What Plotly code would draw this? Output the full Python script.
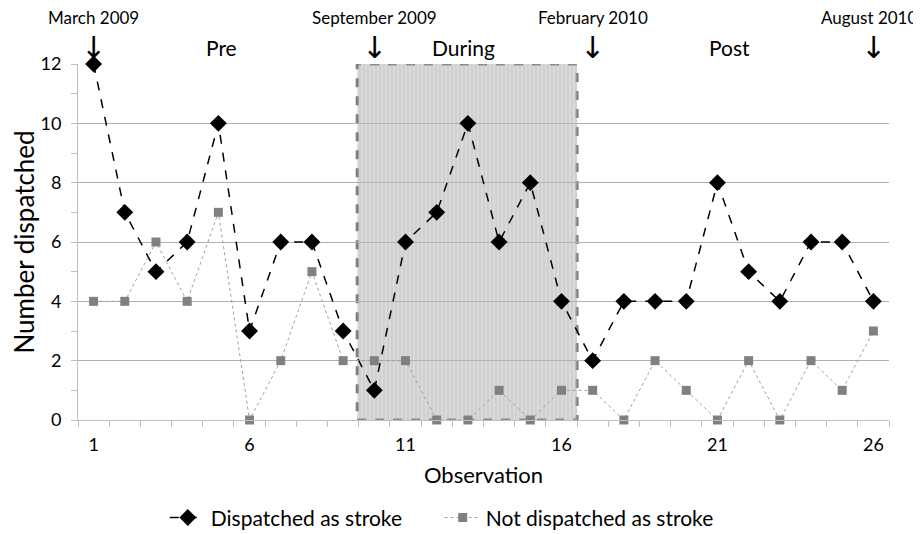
import plotly.graph_objects as go

observations = list(range(1, 27))
dispatched = [12, 7, 5, 6, 10, 3, 6, 6, 3, 1, 6, 7, 10, 6, 8, 4, 2, 4, 4, 4, 8, 5, 4, 6, 6, 4]
not_dispatched = [4, 4, 6, 4, 7, 0, 2, 5, 2, 2, 2, 0, 0, 1, 0, 1, 1, 0, 2, 1, 0, 2, 0, 2, 1, 3]
x_ticks = [1, 6, 11, 16, 21, 26]
phase_labels = ["Pre", "During", "Post"]
phase_pos = [5.1, 12.85, 21.4]
date_labels = ["March 2009", "September 2009", "February 2010", "August 2010"]
date_pos = [1, 10, 17, 26]
during_x0, during_x1 = 9.45, 16.5

FONT = "Lato"
fig = go.Figure()

# hatched fill of the intervention period
fig.add_trace(go.Scatter(
    x=[during_x0, during_x1, during_x1, during_x0, during_x0],
    y=[0, 0, 12, 12, 0], mode="lines", fill="toself",
    line=dict(width=0), fillcolor="rgba(0,0,0,0)",
    fillpattern=dict(shape="|", fgcolor="#bcbcbc", bgcolor="rgba(0,0,0,0)", size=4, solidity=0.35),
    showlegend=False, hoverinfo="skip"))

fig.add_trace(go.Scatter(
    x=observations, y=dispatched, mode="lines+markers", name="Dispatched as stroke",
    line=dict(color="black", dash="dash", width=1.5), legend="legend",
    marker=dict(symbol="diamond", size=13, color="black"), cliponaxis=False))
fig.add_trace(go.Scatter(
    x=observations, y=not_dispatched, mode="lines+markers", name="Not dispatched as stroke",
    line=dict(color="#a0a0a0", dash="dot", width=1), legend="legend2",
    marker=dict(symbol="square", size=9, color="#808080"), cliponaxis=False))

fig.add_shape(type="rect", x0=during_x0, x1=during_x1, y0=0, y1=12, layer="below",
              fillcolor="#dadada", line=dict(color="#808080", width=3, dash="dash"))

for lab, px in zip(phase_labels, phase_pos):
    fig.add_annotation(x=px, y=12, yref="y", text=lab, showarrow=False, yanchor="bottom",
                       yshift=2, font=dict(family=FONT, size=21, color="black"))
for lab, px in zip(date_labels, date_pos):
    fig.add_annotation(x=px, y=12, text="↓", showarrow=False, yanchor="bottom", yshift=-3,
                       font=dict(family="DejaVu Sans", size=30, color="black"))
    fig.add_annotation(x=px, y=12, text=lab, showarrow=False, yanchor="bottom", yshift=34,
                       xshift=-4 if px == 26 else 0,
                       font=dict(family=FONT, size=17, color="black"))

leg_common = dict(orientation="h", xanchor="left", y=-0.275, yanchor="middle",
                  font=dict(family=FONT, size=21, color="black"), itemwidth=36)

# page body adds an 8px offset, so the figure is drawn 8px smaller with shifted margins
fig.update_layout(
    width=913, height=526, plot_bgcolor="white", paper_bgcolor="white",
    margin=dict(l=70, r=32, t=56, b=114, autoexpand=False),
    font=dict(family=FONT, size=17, color="#222"),
    legend=dict(x=0.107, **leg_common),
    legend2=dict(x=0.446, **leg_common),
    xaxis=dict(range=[0.5, 26.5], tickvals=x_ticks, ticks="", showgrid=False, automargin=False,
               showline=True, linecolor="#bfbfbf", zeroline=False, ticklabelstandoff=8,
               minor=dict(tick0=0.5, dtick=1, ticks="outside", ticklen=6, tickcolor="#bfbfbf", showgrid=False),
               title=dict(text="Observation", font=dict(family=FONT, size=22, color="black"), standoff=14),
               tickfont=dict(family=FONT, size=18, color="black")),
    yaxis=dict(range=[0, 12], dtick=2, showgrid=True, gridcolor="#b0b0b0", gridwidth=1, automargin=False,
               showline=True, linecolor="#bfbfbf", zeroline=False, ticklabelstandoff=6,
               ticks="outside", ticklen=6, tickcolor="#bfbfbf",
               minor=dict(dtick=1, ticks="outside", ticklen=6, tickcolor="#bfbfbf", showgrid=False),
               title=dict(text="Number dispatched", font=dict(family=FONT, size=26, color="black"), standoff=3),
               tickfont=dict(family=FONT, size=18, color="black")),
)

fig.write_html("out.html")
